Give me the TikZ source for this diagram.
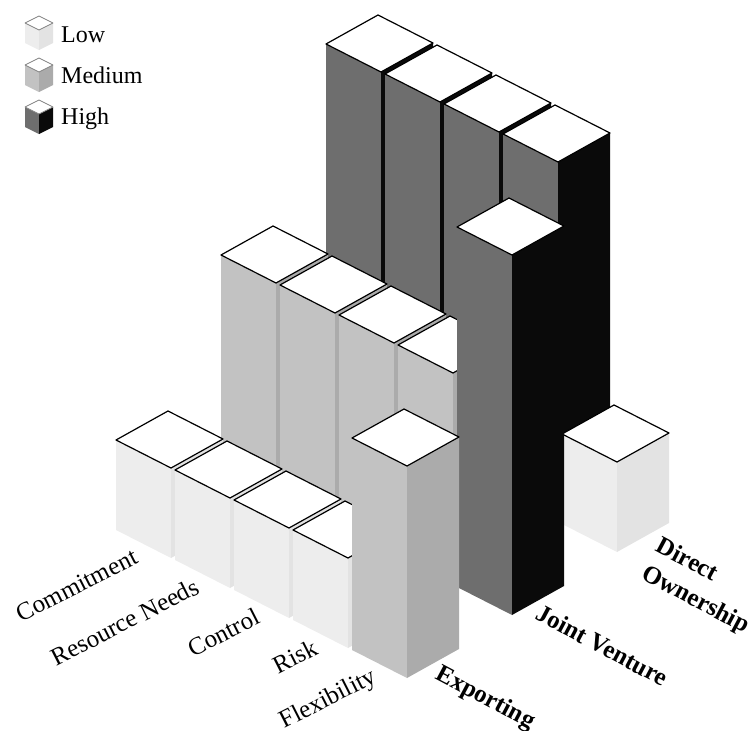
\documentclass[tikz,border=0pt]{standalone}
\usepackage{fontspec}
\setmainfont{Liberation Serif}

\definecolor{lowleft}{gray}{0.93}
\definecolor{lowright}{gray}{0.89}
\definecolor{medleft}{gray}{0.76}
\definecolor{medright}{gray}{0.67}
\definecolor{highleft}{gray}{0.43}
\definecolor{highright}{gray}{0.04}

\tikzset{
  lid/.style={fill=white, draw=black, line width=1.2pt, line join=round},
  keylid/.style={fill=white, draw=gray, line width=0.8pt, line join=round},
  lab/.style={font=\fontsize{25}{28}\selectfont, rotate=27, anchor=east, inner sep=0pt},
  mode/.style={font=\bfseries\fontsize{25}{31}\selectfont, rotate=-28, anchor=west, align=left, inner sep=0pt},
  key/.style={font=\fontsize{24}{28}\selectfont, anchor=base west, inner sep=0pt}
}

% one bar: #1 column, #2 row, #3 height, #4 level (low, med, high)
\newcommand{\drawbar}[4]{%
  \begin{scope}[shift={({171+59*#1+105*#2},{558+30*#1-63*#2})}]
    \fill[#4left] (0,0) -- (-55,-28) -- (-55,{-28-#3}) -- (0,{-#3}) -- cycle;
    \fill[#4right] (0,0) -- (52,-29) -- (52,{-29-#3}) -- (0,{-#3}) -- cycle;
    \draw[lid] (0,{-#3}) -- (-55,{-28-#3}) -- (-3,{-57-#3}) -- (52,{-29-#3}) -- cycle;
  \end{scope}}

% small cube of the key: #1 height of its lid, #2 level
\newcommand{\drawcube}[2]{%
  \begin{scope}[shift={(39,#1)}]
    \fill[#2left] (0,0) -- (-14,-7) -- (-14,13) -- (0,20) -- cycle;
    \fill[#2right] (0,0) -- (14,-7) -- (14,13) -- (0,20) -- cycle;
    \draw[keylid] (0,0) -- (-14,-7) -- (0,-14) -- (14,-7) -- cycle;
  \end{scope}}

\begin{document}
\begin{tikzpicture}[x=1pt, y=-1pt]
\useasboundingbox (0,0) rectangle (756,731);

% key
\drawcube{30}{low}
\node[key] (low) at (61,42) {Low};
\drawcube{72}{med}
\node[key] (medium) at (61,83) {Medium};
\drawcube{114}{high}
\node[key] (high) at (61,124) {High};

% Direct Ownership
\foreach \c in {0,...,3} {\drawbar{\c}{2}{360}{high}}
\drawbar{4}{2}{90}{low}

% Joint Venture
\foreach \c in {0,...,3} {\drawbar{\c}{1}{212}{med}}
\drawbar{4}{1}{360}{high}

% Exporting
\foreach \c in {0,...,3} {\drawbar{\c}{0}{90}{low}}
\drawbar{4}{0}{212}{med}

% criteria
\node[lab] (commitment) at (136,555) {Commitment};
\node[lab] (resource) at (197,585) {Resource Needs};
\node[lab] (control) at (258,615) {Control};
\node[lab] (risk) at (316,646) {Risk};
\node[lab] (flexibility) at (375,676) {Flexibility};

% modes of entry
\node[mode] (exporting) at (437,673) {Exporting};
\node[mode] (joint) at (538,611) {Joint Venture};
\node[mode] (direct) at (650,559) {Direct\\Ownership};

\end{tikzpicture}
\end{document}
